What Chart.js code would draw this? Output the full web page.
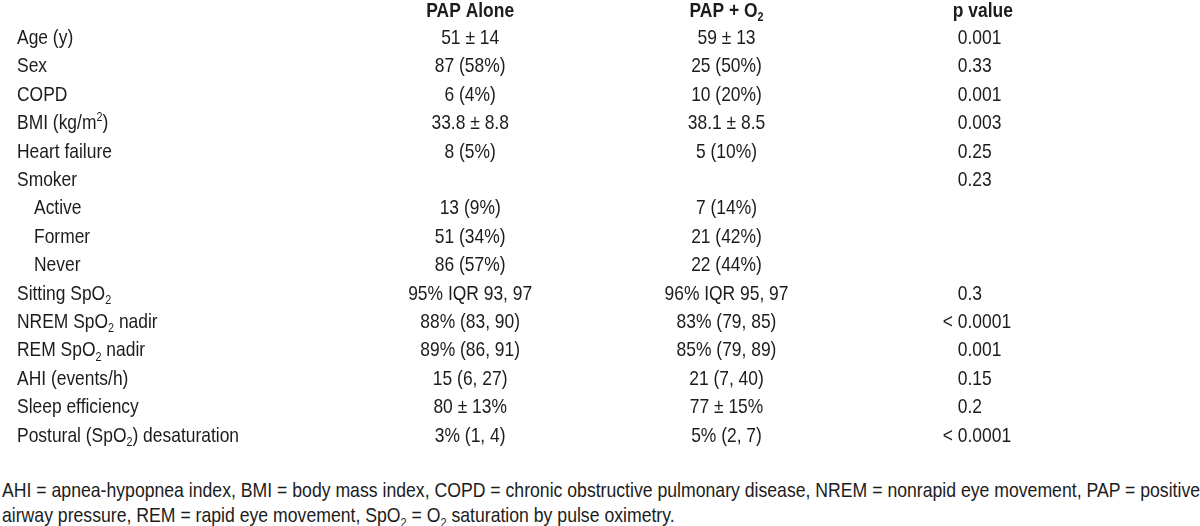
<!DOCTYPE html>
<html>
<head>
<meta charset="utf-8">
<script src="https://cdn.jsdelivr.net/npm/chart.js@4.4.1/dist/chart.umd.min.js"></script>
<style>
  body { margin: 0; background: #fff; }
  #page { position: relative; width: 1200px; height: 526px; overflow: hidden; }
  #wrap { position: absolute; left: 0; top: 0; width: 1200px; height: 452px; }
  #note {
    position: absolute; left: 2px; top: 477px; margin: 0;
    font-family: "Liberation Sans", Arial, sans-serif;
    font-size: 21px; line-height: 25px; color: #1c1c1c; white-space: nowrap;
    transform: scaleX(0.84); transform-origin: 0 0;
  }
  #note sub { font-size: 13px; line-height: 0; }
</style>
</head>
<body>
<div id="page">
<div id="wrap"><canvas id="tableChart"></canvas></div>
<p id="note">AHI = apnea-hypopnea index, BMI = body mass index, COPD = chronic obstructive pulmonary disease, NREM = nonrapid eye movement, PAP = positive<br>airway pressure, REM = rapid eye movement, SpO<sub>2</sub> = O<sub>2</sub> saturation by pulse oximetry.</p>
</div>
<script>
// Table content (markup: _2 = subscript, ^2 = superscript)
const rowLabels = ['Age (y)', 'Sex', 'COPD', 'BMI (kg/m^2)', 'Heart failure', 'Smoker', 'Active', 'Former', 'Never',
  'Sitting SpO_2', 'NREM SpO_2 nadir', 'REM SpO_2 nadir', 'AHI (events/h)', 'Sleep efficiency', 'Postural (SpO_2) desaturation'];
const subRows = ['Active', 'Former', 'Never'];
const columns = ['PAP Alone', 'PAP + O_2', 'p value'];

const papAlone = ['51 ± 14', '87 (58%)', '6 (4%)', '33.8 ± 8.8', '8 (5%)', '', '13 (9%)', '51 (34%)', '86 (57%)',
  '95% IQR 93, 97', '88% (83, 90)', '89% (86, 91)', '15 (6, 27)', '80 ± 13%', '3% (1, 4)'];
const papO2 = ['59 ± 13', '25 (50%)', '10 (20%)', '38.1 ± 8.5', '5 (10%)', '', '7 (14%)', '21 (42%)', '22 (44%)',
  '96% IQR 95, 97', '83% (79, 85)', '85% (79, 89)', '21 (7, 40)', '77 ± 15%', '5% (2, 7)'];
const pValues = ['0.001', '0.33', '0.001', '0.003', '0.25', '0.23', '', '', '',
  '0.3', '< 0.0001', '0.001', '0.15', '0.2', '< 0.0001'];

// no narrow font installed, so the regular one is squeezed horizontally
const FONT = '"Liberation Sans", Arial, sans-serif';
const SIZE = 21;
const SX = 0.83;
const INK = '#1c1c1c';

// split "SpO_2" into normal / sub / sup pieces
function parseRich(text) {
  const parts = [];
  let buf = '';
  for (let i = 0; i < text.length; i++) {
    const ch = text[i];
    if ((ch === '_' || ch === '^') && i + 1 < text.length) {
      if (buf) parts.push({ t: buf, mode: 'n' });
      buf = '';
      parts.push({ t: text[i + 1], mode: ch === '_' ? 'sub' : 'sup' });
      i++;
    } else {
      buf += ch;
    }
  }
  if (buf) parts.push({ t: buf, mode: 'n' });
  return parts;
}

function setFont(ctx, p, weight) {
  ctx.font = weight + ' ' + (p.mode === 'n' ? SIZE : Math.round(SIZE * 0.62)) + 'px ' + FONT;
}

function richWidth(ctx, text, weight) {
  let w = 0;
  parseRich(text).forEach(p => {
    setFont(ctx, p, weight);
    w += ctx.measureText(p.t).width * SX;
  });
  return w;
}

function drawRich(ctx, text, x, y, align, weight) {
  const w = richWidth(ctx, text, weight);
  let cx = align === 'center' ? x - w / 2 : (align === 'right' ? x - w : x);
  ctx.textBaseline = 'middle';
  ctx.textAlign = 'left';
  ctx.fillStyle = INK;
  parseRich(text).forEach(p => {
    setFont(ctx, p, weight);
    let dy = 0;
    if (p.mode === 'sub') dy = SIZE * 0.32;
    if (p.mode === 'sup') dy = -SIZE * 0.28;
    ctx.save();
    ctx.translate(cx, y + dy);
    ctx.scale(SX, 1);
    ctx.fillText(p.t, 0, 0);
    ctx.restore();
    cx += ctx.measureText(p.t).width * SX;
  });
}

// draws headers, row labels and cell texts at the scale positions
const tableText = {
  id: 'tableText',
  afterDatasetsDraw(chart) {
    const ctx = chart.ctx;
    const xs = chart.scales.x;
    const ys = chart.scales.y;
    ctx.save();
    // column headers
    columns.forEach((c, i) => {
      drawRich(ctx, c, xs.getPixelForValue(i), chart.chartArea.top - 13, 'center', 'bold');
    });
    // row labels
    rowLabels.forEach((r, i) => {
      const x = subRows.includes(r) ? 34 : 17;
      drawRich(ctx, r, x, ys.getPixelForValue(i), 'left', 'normal');
    });
    // cells
    chart.data.datasets.forEach((ds, di) => {
      const meta = chart.getDatasetMeta(di);
      meta.data.forEach((pt, i) => {
        const txt = ds.data[i].text;
        if (ds.label === 'p value') {
          // numbers start at one edge, a leading "< " hangs to the left
          let x = pt.x - 25;
          if (txt.startsWith('< ')) {
            x -= richWidth(ctx, '< ', 'normal');
          }
          drawRich(ctx, txt, x, pt.y, 'left', 'normal');
        } else {
          drawRich(ctx, txt, pt.x, pt.y, 'center', 'normal');
        }
      });
    });
    ctx.restore();
  }
};

function cells(col, values) {
  return rowLabels.map((r, i) => ({ x: col, y: r, text: values[i] })).filter(d => d.text);
}

new Chart(document.getElementById('tableChart'), {
  type: 'line',
  data: {
    datasets: [
      { label: columns[0], data: cells(columns[0], papAlone) },
      { label: columns[1], data: cells(columns[1], papO2) },
      { label: columns[2], data: cells(columns[2], pValues) }
    ]
  },
  options: {
    responsive: true,
    maintainAspectRatio: false,
    animation: false,
    showLine: false,
    elements: { point: { radius: 0, hoverRadius: 0 } },
    layout: { padding: { left: 342, right: 89, top: 24, bottom: 2 } },
    scales: {
      x: { type: 'category', labels: columns, offset: true, display: false },
      y: { type: 'category', labels: rowLabels, offset: true, display: false }
    },
    plugins: {
      legend: { display: false },
      tooltip: { enabled: false }
    }
  },
  plugins: [tableText]
});
</script>
</body>
</html>
